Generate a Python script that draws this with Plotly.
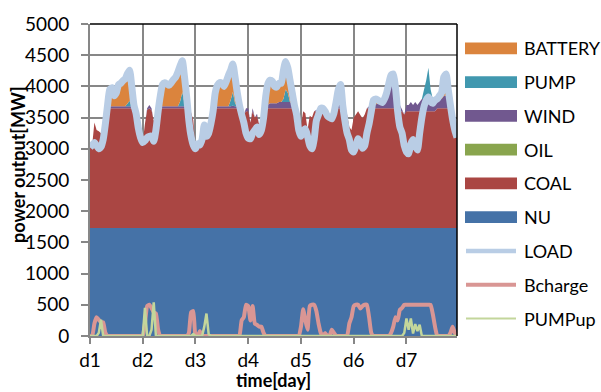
import plotly.graph_objects as go

HOURS = list(range(168))
DAY_TICKS = [0, 24, 48, 72, 96, 120, 144]
DAY_LABELS = ["d1", "d2", "d3", "d4", "d5", "d6", "d7"]
Y_TICKS = [0, 500, 1000, 1500, 2000, 2500, 3000, 3500, 4000, 4500, 5000]

LOAD = [
    3020, 3060, 3100, 3050, 3000, 3030, 3150, 3400, 3700, 3950, 3980, 3850, 3900, 4030, 4050, 4090, 4120, 4200, 4260, 4000, 3700, 3560, 3330, 3180,
    3100, 3130, 3180, 3200, 3200, 3120, 3300, 3600, 3850, 4030, 4060, 4040, 4020, 4060, 4110, 4150, 4230, 4330, 4410, 4150, 3830, 3450, 3200, 3060,
    3000, 3080, 3060, 3150, 3380, 3200, 3250, 3400, 3600, 3900, 4020, 4060, 4050, 4000, 4080, 4180, 4260, 4360, 4150, 3900, 3700, 3550, 3420, 3250,
    3170, 3160, 3250, 3300, 3350, 3230, 3300, 3500, 3850, 4050, 4100, 4080, 4000, 3990, 4050, 4050, 4250, 4400, 4300, 4100, 3900, 3700, 3550, 3300,
    3200, 3280, 3320, 3200, 3050, 3000, 3150, 3450, 3550, 3650, 3650, 3600, 3530, 3500, 3480, 3570, 3750, 3950, 4030, 3700, 3450, 3250, 3150, 2980,
    2950, 3050, 3160, 3100, 3010, 3050, 3250, 3400, 3600, 3780, 3800, 3780, 3760, 3740, 3800, 3900, 4050, 4180, 4200, 3980, 3600, 3350, 3250, 3050,
    2950, 2920, 3080, 3150, 3050, 2980, 3250, 3500, 3680, 3780, 3830, 3750, 3730, 3780, 3800, 3850, 3900, 4150, 4200, 3950, 3700, 3470, 3300, 3180,
]

NU = [
    1730, 1730, 1730, 1730, 1730, 1730, 1730, 1730, 1730, 1730, 1730, 1730, 1730, 1730, 1730, 1730, 1730, 1730, 1730, 1730, 1730, 1730, 1730, 1730,
    1730, 1730, 1730, 1730, 1730, 1730, 1730, 1730, 1730, 1730, 1730, 1730, 1730, 1730, 1730, 1730, 1730, 1730, 1730, 1730, 1730, 1730, 1730, 1730,
    1730, 1730, 1730, 1730, 1730, 1730, 1730, 1730, 1730, 1730, 1730, 1730, 1730, 1730, 1730, 1730, 1730, 1730, 1730, 1730, 1730, 1730, 1730, 1730,
    1730, 1730, 1730, 1730, 1730, 1730, 1730, 1730, 1730, 1730, 1730, 1730, 1730, 1730, 1730, 1730, 1730, 1730, 1730, 1730, 1730, 1730, 1730, 1730,
    1730, 1730, 1730, 1730, 1730, 1730, 1730, 1730, 1730, 1730, 1730, 1730, 1730, 1730, 1730, 1730, 1730, 1730, 1730, 1730, 1730, 1730, 1730, 1730,
    1730, 1730, 1730, 1730, 1730, 1730, 1730, 1730, 1730, 1730, 1730, 1730, 1730, 1730, 1730, 1730, 1730, 1730, 1730, 1730, 1730, 1730, 1730, 1730,
    1730, 1730, 1730, 1730, 1730, 1730, 1730, 1730, 1730, 1730, 1730, 1730, 1730, 1730, 1730, 1730, 1730, 1730, 1730, 1730, 1730, 1730, 1730, 1730,
]

COAL = [
    1290, 1330, 1690, 1570, 1550, 1520, 1520, 1670, 1920, 1920, 1920, 1920, 1920, 1920, 1920, 1920, 1920, 1920, 1920, 1920, 1920, 1830, 1600, 1450,
    1370, 1670, 1890, 1920, 1890, 1720, 1870, 1920, 1920, 1920, 1920, 1920, 1920, 1920, 1920, 1920, 1920, 1920, 1920, 1920, 1920, 1820, 1850, 1730,
    1270, 1350, 1410, 1420, 1650, 1470, 1520, 1670, 1870, 1920, 1920, 1920, 1920, 1920, 1920, 1920, 1920, 1920, 1920, 1920, 1890, 1870, 1820, 1870,
    1870, 1690, 1870, 1770, 1800, 1650, 1720, 1820, 1920, 1920, 1920, 1920, 1920, 1920, 1920, 1920, 1920, 1920, 1920, 1920, 1920, 1920, 1820, 1570,
    1620, 1870, 1840, 1570, 1800, 1770, 1870, 1870, 1870, 1870, 1870, 1870, 1800, 1770, 1820, 1850, 1920, 1920, 1920, 1890, 1820, 1820, 1620, 1570,
    1770, 1820, 1870, 1810, 1760, 1820, 1920, 1920, 1920, 1920, 1920, 1920, 1920, 1920, 1920, 1920, 1920, 1920, 1920, 1920, 1870, 1870, 1870, 1820,
    1870, 1870, 1870, 1870, 1870, 1870, 1870, 1870, 1870, 1870, 1870, 1870, 1870, 1870, 1920, 1920, 1920, 1920, 1920, 1920, 1920, 1870, 1620, 1450,
]

OIL = [
    0, 0, 0, 0, 0, 0, 0, 0, 0, 0, 0, 0, 0, 0, 0, 0, 0, 0, 0, 0, 0, 0, 0, 0,
    0, 0, 0, 0, 0, 0, 0, 0, 0, 0, 0, 0, 0, 0, 0, 0, 0, 0, 0, 0, 0, 0, 0, 0,
    0, 0, 0, 0, 0, 0, 0, 0, 0, 0, 0, 0, 0, 0, 0, 0, 0, 0, 0, 0, 0, 0, 0, 0,
    0, 0, 0, 0, 0, 0, 0, 0, 0, 0, 0, 0, 0, 0, 0, 0, 0, 0, 0, 0, 0, 0, 0, 0,
    0, 0, 0, 0, 0, 0, 0, 0, 0, 0, 0, 0, 0, 0, 0, 0, 0, 0, 0, 0, 0, 0, 0, 0,
    0, 0, 0, 0, 0, 0, 0, 0, 0, 0, 0, 0, 0, 0, 0, 0, 0, 0, 0, 0, 0, 0, 0, 0,
    0, 0, 0, 0, 0, 0, 0, 0, 0, 0, 0, 0, 0, 0, 0, 0, 0, 0, 0, 0, 0, 0, 0, 0,
]

WIND = [
    0, 0, 0, 0, 0, 0, 0, 0, 30, 30, 30, 30, 30, 30, 30, 30, 30, 30, 30, 30, 30, 0, 0, 0,
    0, 0, 30, 50, 30, 0, 0, 30, 30, 30, 30, 30, 30, 30, 30, 30, 30, 30, 30, 30, 30, 0, 0, 0,
    0, 0, 0, 0, 0, 0, 0, 0, 30, 30, 30, 30, 30, 30, 30, 30, 30, 40, 30, 30, 40, 30, 0, 50,
    50, 0, 50, 0, 30, 0, 30, 50, 60, 60, 80, 80, 80, 80, 100, 100, 100, 100, 100, 100, 80, 50, 0, 0,
    0, 0, 0, 0, 0, 0, 0, 20, 30, 40, 40, 50, 0, 0, 30, 30, 50, 50, 50, 50, 0, 0, 0, 0,
    0, 0, 0, 0, 0, 0, 0, 30, 50, 50, 60, 80, 110, 90, 150, 250, 400, 520, 550, 330, 200, 100, 30, 0,
    100, 100, 150, 100, 150, 100, 150, 200, 200, 250, 200, 250, 200, 200, 150, 150, 150, 200, 200, 150, 50, 0, 0, 0,
]

PUMP = [
    0, 0, 0, 0, 0, 0, 0, 0, 0, 0, 0, 0, 0, 0, 0, 0, 0, 40, 90, 0, 0, 0, 0, 0,
    0, 0, 0, 0, 0, 0, 0, 0, 0, 0, 0, 0, 0, 0, 0, 0, 0, 80, 230, 50, 0, 0, 0, 0,
    0, 0, 0, 0, 0, 0, 0, 0, 0, 0, 0, 0, 0, 0, 0, 0, 100, 220, 50, 0, 0, 0, 0, 0,
    0, 0, 0, 0, 0, 0, 0, 0, 0, 0, 0, 0, 0, 0, 0, 0, 50, 200, 150, 0, 0, 0, 0, 0,
    0, 0, 0, 0, 0, 0, 0, 0, 0, 0, 0, 0, 0, 0, 0, 0, 0, 0, 0, 0, 0, 0, 0, 0,
    0, 0, 0, 0, 0, 0, 0, 0, 0, 0, 0, 0, 0, 0, 0, 0, 0, 0, 0, 0, 0, 0, 0, 0,
    0, 0, 0, 0, 0, 0, 0, 0, 150, 250, 500, 100, 0, 0, 0, 0, 0, 0, 0, 0, 0, 0, 0, 0,
]

BATTERY = [
    0, 0, 0, 0, 0, 0, 0, 0, 20, 270, 300, 170, 220, 350, 370, 410, 440, 480, 490, 320, 20, 0, 0, 0,
    0, 0, 0, 0, 0, 0, 0, 0, 170, 350, 380, 360, 340, 380, 430, 470, 550, 570, 500, 420, 150, 0, 0, 0,
    0, 0, 0, 0, 0, 0, 0, 0, 0, 220, 340, 380, 370, 320, 400, 500, 480, 450, 420, 220, 40, 0, 0, 0,
    0, 0, 0, 0, 0, 0, 0, 0, 140, 340, 370, 350, 270, 260, 300, 300, 450, 450, 400, 350, 170, 0, 0, 0,
    0, 0, 0, 0, 0, 0, 0, 0, 0, 10, 10, 0, 0, 0, 0, 0, 50, 250, 330, 30, 0, 0, 0, 0,
    0, 0, 0, 0, 0, 0, 0, 0, 0, 80, 90, 50, 0, 0, 0, 0, 0, 10, 0, 0, 0, 0, 0, 0,
    0, 0, 0, 0, 0, 0, 0, 0, 0, 0, 0, 0, 0, 0, 0, 50, 100, 300, 350, 150, 0, 0, 0, 0,
]

BCHARGE = [
    0, 0, 200, 300, 260, 220, 220, 50, 0, 0, 0, 0, 0, 0, 0, 0, 0, 0, 0, 0, 0, 0, 0, 0,
    0, 200, 480, 500, 450, 380, 360, 100, 0, 0, 0, 0, 0, 0, 0, 0, 0, 0, 0, 0, 0, 50, 380, 400,
    0, 0, 80, 0, 0, 0, 0, 0, 0, 0, 0, 0, 0, 0, 0, 0, 0, 0, 0, 0, 0, 250, 300, 500,
    480, 250, 480, 200, 180, 150, 150, 50, 0, 0, 0, 0, 0, 0, 0, 0, 0, 0, 0, 0, 0, 0, 0, 0,
    150, 430, 250, 100, 480, 500, 500, 400, 200, 50, 0, 50, 0, 0, 100, 50, 0, 0, 0, 0, 0, 0, 200, 300,
    480, 500, 500, 440, 480, 500, 500, 300, 50, 0, 0, 0, 0, 0, 0, 0, 0, 50, 150, 300, 250, 420, 450, 500,
    500, 500, 500, 500, 500, 500, 500, 500, 500, 500, 500, 500, 350, 150, 0, 0, 0, 0, 0, 0, 50, 150, 50, 0,
]

PUMPUP = [
    0, 0, 0, 0, 50, 260, 0, 0, 0, 0, 0, 0, 0, 0, 0, 0, 0, 0, 0, 0, 0, 0, 0, 0,
    0, 450, 0, 0, 100, 540, 0, 0, 0, 0, 0, 0, 0, 0, 0, 0, 0, 0, 0, 0, 0, 0, 0, 30,
    0, 0, 0, 0, 150, 360, 30, 0, 0, 0, 0, 0, 0, 0, 0, 0, 0, 0, 0, 0, 0, 0, 0, 0,
    0, 0, 0, 0, 0, 0, 0, 0, 0, 0, 0, 0, 0, 0, 0, 0, 0, 0, 0, 0, 0, 0, 0, 0,
    0, 0, 0, 0, 0, 0, 0, 0, 0, 0, 0, 0, 0, 0, 0, 0, 0, 0, 0, 0, 0, 0, 0, 0,
    0, 0, 0, 0, 0, 0, 0, 0, 0, 0, 0, 0, 0, 0, 0, 0, 0, 0, 0, 0, 0, 0, 0, 50,
    280, 100, 280, 40, 190, 80, 180, 0, 0, 0, 0, 0, 0, 0, 0, 0, 0, 0, 0, 0, 0, 0, 0, 0,
]

for arr in (LOAD, NU, COAL, OIL, WIND, PUMP, BATTERY, BCHARGE, PUMPUP):
    assert len(arr) == 168, len(arr)

FONT = "Lato, 'Open Sans', sans-serif"
C = {
    "NU": "#4572A7", "COAL": "#AA4643", "OIL": "#89A54E", "WIND": "#71588F",
    "PUMP": "#4198AF", "BATTERY": "#DB843D", "LOAD": "#B9CDE5",
    "Bcharge": "#D99694", "PUMPup": "#C3D69B",
}
GRID = "#878787"

fig = go.Figure()
for name, vals in [("NU", NU), ("COAL", COAL), ("OIL", OIL), ("WIND", WIND),
                   ("PUMP", PUMP), ("BATTERY", BATTERY)]:
    fig.add_trace(go.Scatter(x=HOURS, y=vals, name=name, stackgroup="gen",
                             mode="none", fillcolor=C[name]))

fig.add_trace(go.Scatter(x=HOURS, y=LOAD, name="LOAD", mode="lines",
                         line=dict(color=C["LOAD"], width=7, shape="spline", smoothing=0.6)))
fig.add_trace(go.Scatter(x=HOURS, y=BCHARGE, name="Bcharge", mode="lines",
                         line=dict(color=C["Bcharge"], width=4, shape="spline", smoothing=0.4)))
fig.add_trace(go.Scatter(x=HOURS, y=PUMPUP, name="PUMPup", mode="lines",
                         line=dict(color=C["PUMPup"], width=2.5)))

L, R, T, B = 90, 457, 15, 336
W, H = R - L, B - T


def px(p):
    return (p - L) / W


def py(p):
    return (B - p) / H


shapes = [
    dict(type="line", xref="paper", yref="paper", x0=0, x1=1, y0=1, y1=1,
         line=dict(color="black", width=1.5)),
    dict(type="line", xref="paper", yref="paper", x0=1, x1=1, y0=0, y1=1,
         line=dict(color="black", width=1.5)),
]
annotations = [
    dict(text="<b>power output[MW]</b>", xref="paper", yref="paper",
         x=px(18), y=py(160), textangle=-90, showarrow=False,
         xanchor="center", yanchor="middle", font=dict(size=18, color="black", family=FONT)),
    dict(text="<b>time[day]</b>", xref="paper", yref="paper",
         x=px(273), y=py(381), showarrow=False,
         xanchor="center", yanchor="middle", font=dict(size=18, color="black", family=FONT)),
]

LEGEND = [("BATTERY", "area"), ("PUMP", "area"), ("WIND", "area"), ("OIL", "area"),
          ("COAL", "area"), ("NU", "area"), ("LOAD", "line"), ("Bcharge", "line"),
          ("PUMPup", "line")]
LW = {"LOAD": 4.5, "Bcharge": 4, "PUMPup": 2}
for i, (name, kind) in enumerate(LEGEND):
    yc = 40 + i * 34.75
    if kind == "area":
        shapes.append(dict(type="rect", xref="paper", yref="paper",
                           x0=px(465), x1=px(517), y0=py(yc + 6), y1=py(yc - 6),
                           fillcolor=C[name], line=dict(width=0)))
    else:
        shapes.append(dict(type="line", xref="paper", yref="paper",
                           x0=px(466), x1=px(516), y0=py(yc), y1=py(yc),
                           line=dict(color=C[name], width=LW[name])))
    annotations.append(dict(text=name, xref="paper", yref="paper", x=px(522), y=py(yc),
                            xanchor="left", yanchor="middle", showarrow=False,
                            font=dict(size=18, color="black", family=FONT)))

fig.update_layout(
    width=601, height=392,
    margin=dict(l=L, r=601 - R, t=T, b=392 - B, pad=0),
    paper_bgcolor="white", plot_bgcolor="white",
    showlegend=False,
    font=dict(family=FONT, size=18, color="black"),
    shapes=shapes, annotations=annotations,
    xaxis=dict(range=[0, 167], tickvals=DAY_TICKS, ticktext=DAY_LABELS,
               showgrid=True, gridcolor=GRID, gridwidth=1.5, zeroline=False,
               showline=True, linecolor=GRID, linewidth=2,
               ticks="outside", ticklen=6, tickcolor=GRID, tickwidth=1.5,
               tickfont=dict(size=19, family=FONT, color="black")),
    yaxis=dict(range=[0, 5000], tickvals=Y_TICKS,
               showgrid=True, gridcolor=GRID, gridwidth=1.5, zeroline=False,
               showline=True, linecolor=GRID, linewidth=2,
               ticks="outside", ticklen=7, tickcolor=GRID, tickwidth=1.5,
               ticklabelstandoff=8,
               tickfont=dict(size=19, family=FONT, color="black")),
)

fig.write_html("out.html")
